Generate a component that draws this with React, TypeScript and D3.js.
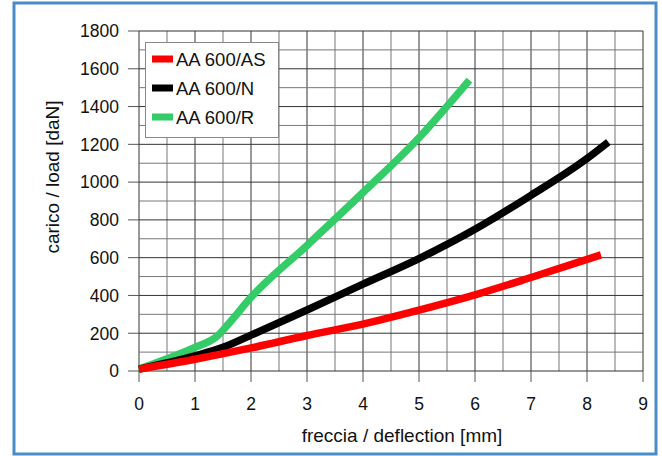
import React, { useRef, useEffect } from 'react';
import * as d3 from 'd3';

const seriesNames = ['AA 600/AS', 'AA 600/N', 'AA 600/R'];
const seriesColors = ['#ff0000', '#000000', '#33cc66'];

const asX = [0, 1, 2, 3, 4, 5, 6, 7, 8.25];
const asY = [10, 62, 122, 188, 248, 322, 403, 495, 615];

const nX = [0, 1, 1.5, 2, 3, 4, 5, 6, 7, 8, 8.38];
const nY = [10, 80, 125, 190, 323, 460, 595, 750, 930, 1125, 1212];

const rX = [0, 0.5, 1, 1.4, 1.6, 2, 3, 4, 5, 5.9];
const rY = [10, 65, 125, 185, 250, 390, 665, 945, 1235, 1540];

const xTicks = [0, 1, 2, 3, 4, 5, 6, 7, 8, 9];
const yTicks = [0, 200, 400, 600, 800, 1000, 1200, 1400, 1600, 1800];

const App: React.FC = () => {
  const svgRef = useRef<SVGSVGElement>(null);

  useEffect(() => {
    if (!svgRef.current) return;
    const svg = d3.select(svgRef.current);
    svg.selectAll('*').remove();

    const x = d3.scaleLinear().domain([0, 9]).range([139, 643]);
    const y = d3.scaleLinear().domain([0, 1800]).range([371, 31]);

    svg.append('rect')
      .attr('x', 14).attr('y', 3).attr('width', 642).attr('height', 451)
      .attr('fill', '#fff').attr('stroke', '#4a8cc9').attr('stroke-width', 3);

    // grid
    const grid = svg.append('g');
    d3.range(0, 9.01, 0.5).forEach(v => {
      grid.append('line')
        .attr('x1', x(v)).attr('x2', x(v)).attr('y1', y(0)).attr('y2', y(1800))
        .attr('stroke', Number.isInteger(v) ? '#333' : '#777').attr('stroke-width', 1);
    });
    d3.range(0, 1801, 100).forEach(v => {
      grid.append('line')
        .attr('x1', x(0)).attr('x2', x(9)).attr('y1', y(v)).attr('y2', y(v))
        .attr('stroke', v % 200 === 0 ? '#333' : '#777').attr('stroke-width', 1);
    });

    // axes ticks
    const font = 'Liberation Sans, Arial, sans-serif';
    xTicks.forEach(v => {
      svg.append('line').attr('x1', x(v)).attr('x2', x(v)).attr('y1', y(0)).attr('y2', y(0) + 11)
        .attr('stroke', '#555');
      svg.append('text').attr('x', x(v)).attr('y', 410).attr('text-anchor', 'middle')
        .attr('font-family', font).attr('font-size', 17.5).attr('fill', '#111').text(v);
    });
    yTicks.forEach(v => {
      svg.append('line').attr('x1', x(0) - 11).attr('x2', x(0)).attr('y1', y(v)).attr('y2', y(v))
        .attr('stroke', '#555');
      svg.append('text').attr('x', 119).attr('y', y(v)).attr('dy', '0.36em').attr('text-anchor', 'end')
        .attr('font-family', font).attr('font-size', 17.5).attr('fill', '#111').text(v);
    });

    svg.append('text').attr('x', 402).attr('y', 442).attr('text-anchor', 'middle')
      .attr('font-family', font).attr('font-size', 19).attr('fill', '#111')
      .text('freccia / deflection [mm]');
    svg.append('text').attr('transform', 'translate(59,177) rotate(-90)').attr('text-anchor', 'middle')
      .attr('font-family', font).attr('font-size', 19).attr('fill', '#111')
      .text('carico / load [daN]');

    const line = d3.line<[number, number]>()
      .x(d => x(d[0])).y(d => y(d[1]))
      .curve(d3.curveMonotoneX);

    const allX = [asX, nX, rX];
    const allY = [asY, nY, rY];
    [2, 1, 0].forEach(i => {
      const pts = allX[i].map((v, j) => [v, allY[i][j]] as [number, number]);
      svg.append('path').attr('d', line(pts))
        .attr('fill', 'none').attr('stroke', seriesColors[i]).attr('stroke-width', 7.5)
        .attr('stroke-linecap', 'butt').attr('stroke-linejoin', 'round');
    });

    // legend
    const lg = svg.append('g');
    lg.append('rect').attr('x', 145.5).attr('y', 42.5).attr('width', 133).attr('height', 95)
      .attr('fill', '#fff').attr('stroke', '#888');
    seriesNames.forEach((name, i) => {
      const cy = 59 + i * 29;
      lg.append('rect').attr('x', 152).attr('y', cy - 3.5).attr('width', 21).attr('height', 7)
        .attr('fill', seriesColors[i]);
      lg.append('text').attr('x', 176).attr('y', cy).attr('dy', '0.36em')
        .attr('font-family', font).attr('font-size', 18.5).attr('fill', '#111').text(name);
    });
  }, []);

  return (
    <svg ref={svgRef} width={662} height={456}
      style={{ position: 'absolute', left: 0, top: 0, background: '#fff' }} />
  );
};

export default App;
